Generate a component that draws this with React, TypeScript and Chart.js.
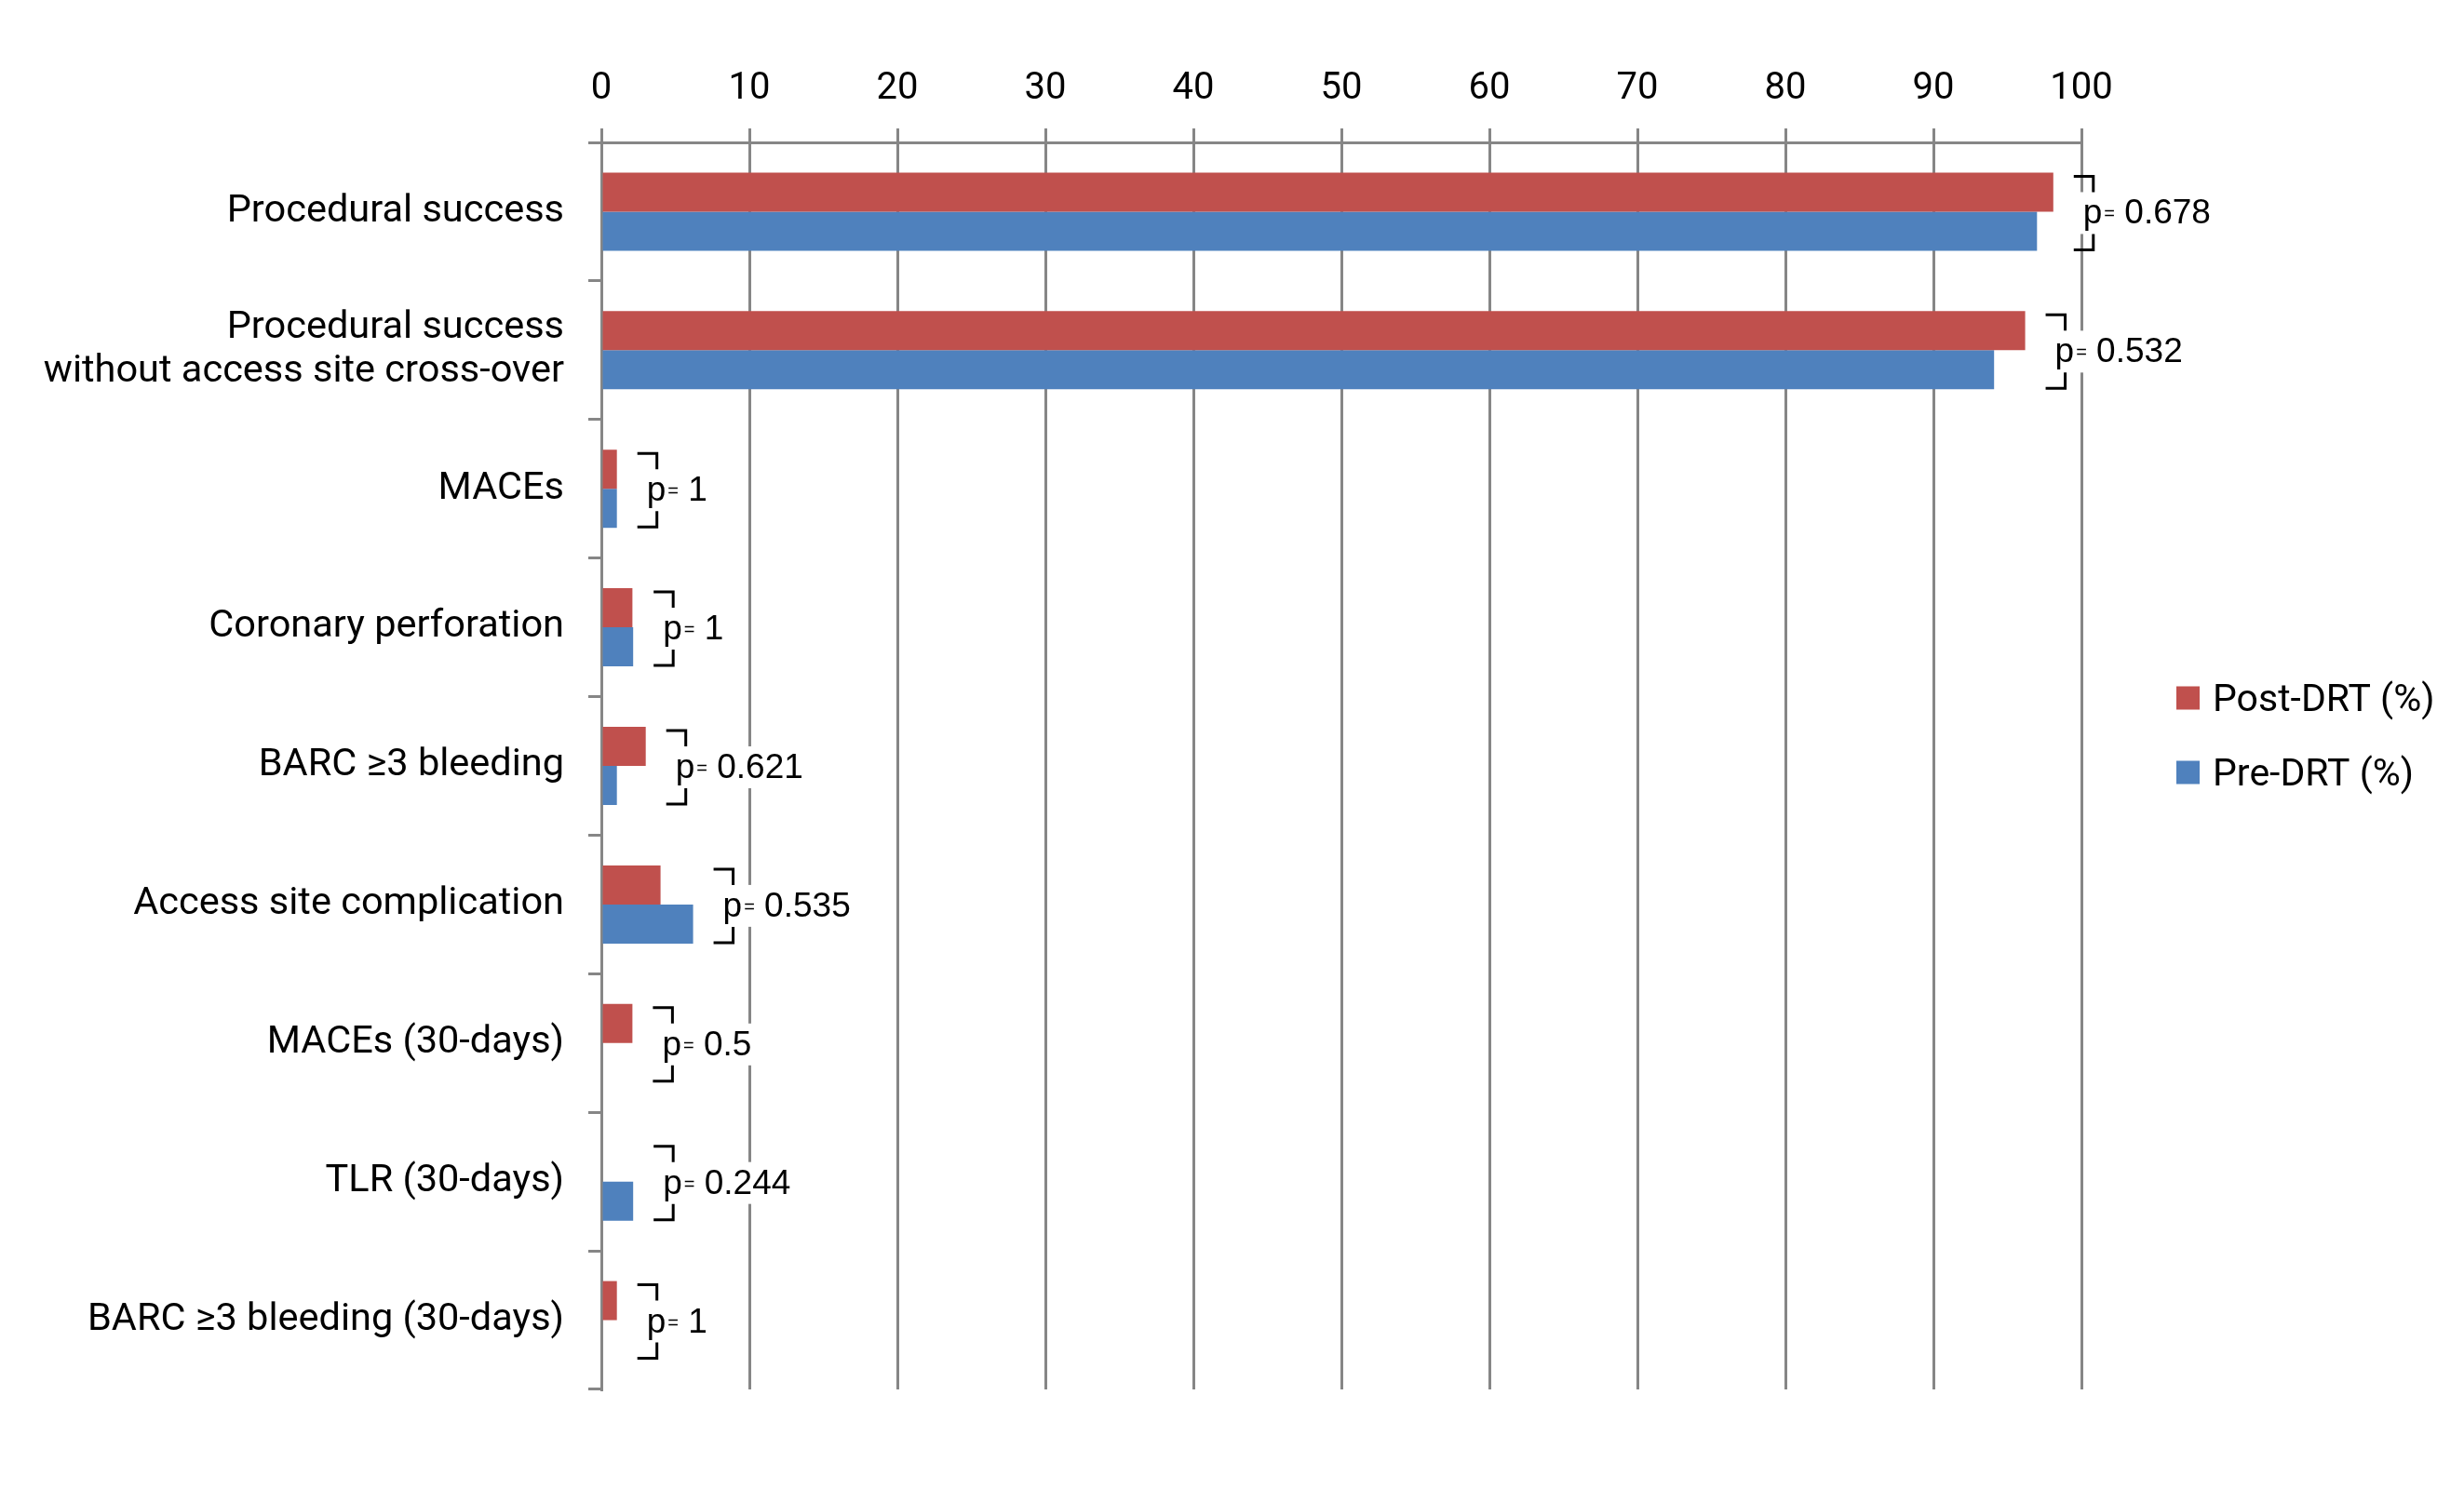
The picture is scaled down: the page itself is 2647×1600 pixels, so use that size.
import { useEffect, useRef } from "react";
import { Chart, registerables } from "chart.js";

Chart.register(...registerables);

// categories, top to bottom
const categories: (string | string[])[] = [
  "Procedural success",
  ["Procedural success", "without access site cross-over"],
  "MACEs",
  "Coronary perforation",
  "BARC ≥3 bleeding",
  "Access site complication",
  "MACEs (30-days)",
  "TLR (30-days)",
  "BARC ≥3 bleeding (30-days)",
];

const postDRT = [98.1, 96.2, 1.05, 2.1, 3.0, 4.0, 2.1, 0, 1.05];
const preDRT = [97.0, 94.1, 1.05, 2.15, 1.05, 6.2, 0, 2.15, 0];
const pValues = ["0.678", "0.532", "1", "1", "0.621", "0.535", "0.5", "0.244", "1"];

const xTicksMax = 100;
const xTickStep = 10;

const RED = "#C0504D";
const BLUE = "#4F81BD";
const AXIS_GRAY = "#868686";
const FONT = "Roboto";

// p-value brackets drawn next to each pair of bars
const pValuePlugin = {
  id: "pValueBrackets",
  afterDatasetsDraw(chart: any) {
    const ctx = chart.ctx as CanvasRenderingContext2D;
    const post = chart.getDatasetMeta(0).data;
    const pre = chart.getDatasetMeta(1).data;
    ctx.save();
    pValues.forEach((p, i) => {
      const a = post[i];
      const b = pre[i];
      const end = Math.max(a.x, b.x);
      const top = a.y - a.height / 2 + 4;
      const bottom = b.y + b.height / 2 - 1;
      const mid = (a.y + b.y) / 2;
      const left = end + 22;
      const right = left + 21;

      ctx.font = "37px 'Liberation Sans'";
      const wP = ctx.measureText("p").width;
      const wNum = ctx.measureText(" " + p).width;
      ctx.font = "20px 'Liberation Sans'";
      const wEq = ctx.measureText("=").width;
      const textX = left + 10;
      const total = wP + 2 + wEq + wNum;

      // white text box hides the gridlines behind the label
      ctx.fillStyle = "#fff";
      ctx.fillRect(left + 4, top + 17, total + 12, bottom - top - 34);

      ctx.strokeStyle = "#000";
      ctx.lineWidth = 3;
      ctx.lineJoin = "miter";
      ctx.lineCap = "butt";
      ctx.beginPath();
      ctx.moveTo(left, top);
      ctx.lineTo(right, top);
      ctx.lineTo(right, top + 17);
      ctx.moveTo(right, bottom - 17);
      ctx.lineTo(right, bottom);
      ctx.lineTo(left, bottom);
      ctx.stroke();

      const base = mid + 13;
      ctx.fillStyle = "#000";
      ctx.textBaseline = "alphabetic";
      ctx.textAlign = "left";
      ctx.font = "37px 'Liberation Sans'";
      ctx.fillText("p", textX, base);
      ctx.font = "20px 'Liberation Sans'";
      ctx.fillText("=", textX + wP + 2, base - 4);
      ctx.font = "37px 'Liberation Sans'";
      ctx.fillText(" " + p, textX + wP + 2 + wEq, base);
    });
    ctx.restore();
  },
};

const legendPlugin = {
  id: "sideLegend",
  afterDraw(chart: any) {
    const ctx = chart.ctx as CanvasRenderingContext2D;
    ctx.save();
    ctx.font = `41px ${FONT}`;
    ctx.textAlign = "left";
    ctx.textBaseline = "alphabetic";
    chart.data.datasets.forEach((ds: any, i: number) => {
      const cy = 750 + i * 80;
      ctx.fillStyle = ds.backgroundColor;
      ctx.fillRect(2338, cy - 12.5, 25, 25);
      ctx.fillStyle = "#000";
      ctx.fillText(ds.label, 2377, cy + 14);
    });
    ctx.restore();
  },
};

export default function App() {
  const canvasRef = useRef<HTMLCanvasElement | null>(null);

  useEffect(() => {
    if (!canvasRef.current) return;

    const chart = new Chart(canvasRef.current, {
      type: "bar",
      data: {
        labels: categories,
        datasets: [
          {
            label: "Post-DRT (%)",
            data: postDRT,
            backgroundColor: RED,
            borderWidth: 0,
            barPercentage: 1,
            categoryPercentage: 0.564,
          },
          {
            label: "Pre-DRT (%)",
            data: preDRT,
            backgroundColor: BLUE,
            borderWidth: 0,
            barPercentage: 1,
            categoryPercentage: 0.564,
          },
        ],
      },
      options: {
        indexAxis: "y",
        animation: false,
        responsive: true,
        maintainAspectRatio: false,
        layout: { padding: { left: 0, top: 0, right: 411, bottom: 107 } },
        plugins: {
          legend: { display: false },
          tooltip: { enabled: false },
        },
        scales: {
          x: {
            position: "top",
            min: 0,
            max: xTicksMax,
            ticks: {
              stepSize: xTickStep,
              color: "#000",
              font: { family: FONT, size: 40 },
              padding: 18,
            },
            grid: { color: AXIS_GRAY, lineWidth: 3, tickLength: 15 },
            border: { color: AXIS_GRAY, width: 3 },
            afterFit(scale: any) {
              scale.height = 153;
            },
          },
          y: {
            grid: {
              display: true,
              drawOnChartArea: false,
              drawTicks: true,
              tickLength: 14,
              color: AXIS_GRAY,
              lineWidth: 3,
              offset: true,
            },
            border: { color: AXIS_GRAY, width: 3 },
            ticks: {
              color: "#000",
              font: { family: FONT, size: 41.5, lineHeight: 1.12 },
              padding: 26,
            },
            afterFit(scale: any) {
              scale.width = 646;
            },
          },
        },
      },
      plugins: [pValuePlugin, legendPlugin],
    });

    return () => {
      chart.destroy();
    };
  }, []);

  return (
    <div
      style={{
        position: "absolute",
        left: 0,
        top: 0,
        width: 2647,
        height: 1600,
        background: "#fff",
      }}
    >
      <canvas ref={canvasRef} />
    </div>
  );
}
